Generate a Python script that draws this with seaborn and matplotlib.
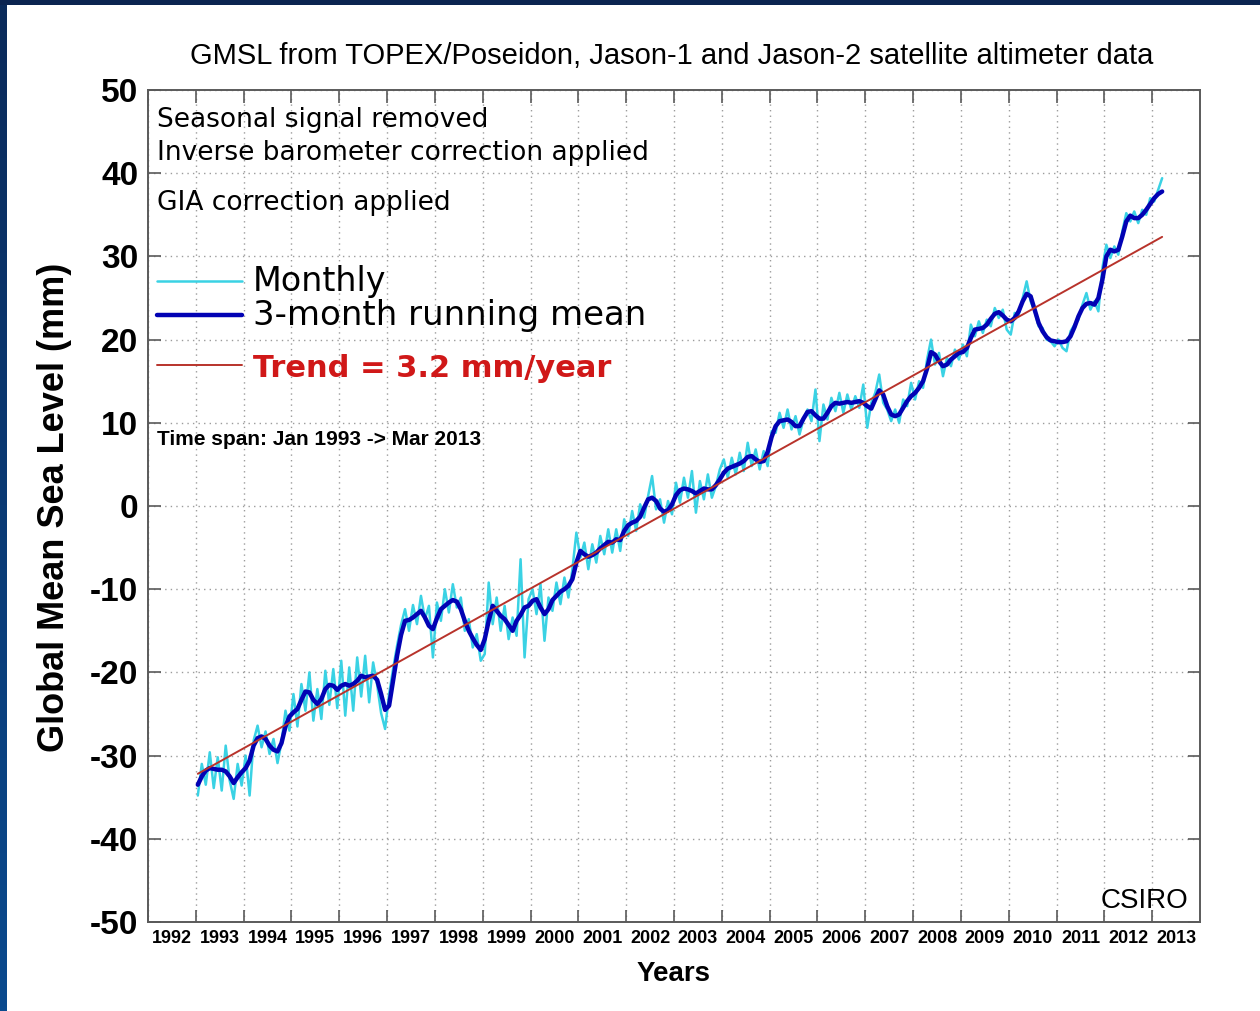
import numpy as np
import pandas as pd
import matplotlib
matplotlib.use("Agg")
import matplotlib.pyplot as plt
import seaborn as sns

# Global mean sea level (mm), monthly values Jan 1993 -> Mar 2013 (one row per year)
monthly_gmsl = [
    -34.8, -31.0, -33.5, -29.6, -33.9, -30.2, -34.2, -28.8, -33.0, -35.2, -31.0, -33.6,
    -30.0, -34.8, -28.2, -26.4, -29.0, -27.1, -29.8, -28.0, -30.9, -28.4, -24.6, -27.0,
    -22.6, -26.5, -21.4, -24.6, -20.0, -25.8, -22.0, -25.6, -19.8, -23.9, -19.6, -24.3,
    -18.6, -25.2, -19.4, -24.6, -18.2, -22.9, -18.0, -23.6, -18.8, -21.5, -24.9, -26.8,
    -22.6, -19.6, -16.8, -14.3, -12.4, -15.0, -11.9, -14.2, -10.8, -13.6, -12.0, -18.2,
    -11.6, -13.8, -10.0, -12.8, -9.4, -12.2, -11.0, -15.0, -13.6, -17.0, -15.4, -18.6,
    -17.8, -9.2, -14.2, -11.0, -15.0, -12.0, -16.0, -13.4, -15.6, -6.4, -18.2, -11.2,
    -10.0, -13.0, -9.4, -16.2, -11.0, -12.6, -9.2, -11.8, -8.6, -11.0, -7.6, -3.2,
    -6.2, -4.4, -7.6, -4.6, -6.8, -3.6, -5.8, -2.8, -5.6, -2.8, -5.4, -1.6,
    -3.6, -0.6, -3.0, 0.2, -1.4, 1.2, 3.6, -0.4, 0.8, -2.0, 0.6, -1.0,
    2.8, 0.4, 3.4, 1.0, 4.2, -0.8, 3.0, 0.8, 3.8, 1.0, 2.4, 4.4,
    5.6, 3.4, 5.8, 3.8, 6.4, 4.2, 7.6, 4.8, 6.8, 4.4, 6.6, 4.8,
    9.0, 8.8, 11.2, 9.4, 11.6, 9.2, 10.8, 8.6, 10.4, 11.6, 10.2, 14.0,
    7.8, 12.2, 10.4, 13.0, 11.4, 13.6, 11.2, 13.4, 11.6, 13.2, 11.8, 14.6,
    9.4, 12.4, 13.6, 15.8, 12.4, 11.6, 10.2, 11.6, 10.0, 12.8, 12.0, 14.8,
    12.8, 15.0, 14.2, 17.6, 20.0, 17.0, 18.4, 15.6, 17.8, 16.8, 18.8, 17.6,
    19.4, 18.0, 21.8, 20.4, 22.2, 20.8, 22.4, 21.6, 23.8, 22.6, 23.6, 21.2,
    20.6, 23.2, 23.0, 25.0, 27.0, 24.6, 23.4, 21.6, 21.4, 20.0, 19.8, 19.2,
    20.0, 19.0, 18.6, 21.0, 21.8, 22.4, 24.2, 25.6, 23.6, 24.6, 23.4, 28.6,
    31.4, 29.8, 31.2, 30.2, 33.0, 35.2, 34.2, 35.4, 34.0, 35.6, 35.0, 37.0,
    36.6, 38.0, 39.4,
]

# 3-month running mean (mm), same months
running_mean = [
    -33.5, -32.5, -31.8, -31.5, -31.6, -31.7, -31.7, -31.9, -32.5, -33.3, -32.6, -32.0,
    -31.5, -30.6, -28.8, -27.9, -27.7, -28.0, -28.8, -29.3, -29.5, -28.5, -26.5, -25.3,
    -24.8, -24.4, -23.3, -22.3, -22.4, -23.3, -23.8, -23.2, -22.0, -21.5, -21.6, -22.1,
    -21.6, -21.4, -21.6, -21.4, -21.0, -20.4, -20.6, -20.5, -20.4, -20.9, -22.6, -24.5,
    -24.0, -21.0, -18.0, -15.5, -13.8, -13.7, -13.4, -13.0, -12.6, -13.4, -14.4, -14.8,
    -13.5, -12.4, -12.0, -11.6, -11.3, -11.5, -12.4, -13.8, -15.0, -15.9, -16.7, -17.3,
    -16.0, -13.8, -12.0, -12.6, -13.2, -13.6, -14.3, -15.0, -13.8, -13.1, -12.2, -12.0,
    -11.4, -11.2, -12.2, -13.0, -12.4, -11.3, -10.8, -10.3, -10.0, -9.6, -8.8, -6.8,
    -5.4, -5.8, -6.1, -5.9, -5.6, -5.1, -4.7, -4.3, -4.4, -4.0, -4.1, -3.0,
    -2.3, -2.0, -1.8, -1.3, -0.2, 0.8, 1.0, 0.6, -0.3, -0.7, -0.5, 0.2,
    1.3, 1.9, 2.1, 2.0, 1.8, 1.5, 1.8, 2.1, 2.0, 2.0, 2.5, 3.2,
    4.0, 4.5, 4.7, 4.9, 5.1, 5.4, 5.9, 6.0, 5.6, 5.3, 5.4, 6.5,
    8.3, 9.6, 10.2, 10.3, 10.4, 10.1, 9.6, 9.6, 10.5, 11.3, 11.4, 10.9,
    10.5, 10.5, 11.2, 12.0, 12.4, 12.3, 12.4, 12.5, 12.4, 12.5, 12.6, 12.4,
    12.0, 11.7, 12.8, 13.9, 13.4, 12.0, 11.0, 10.8, 11.0, 11.8, 12.6, 13.2,
    13.6, 14.2, 15.0, 16.5, 18.5, 18.2, 17.4, 16.8, 17.0, 17.6, 18.0, 18.4,
    18.5, 19.0, 20.2, 21.2, 21.3, 21.4, 21.8, 22.5, 23.1, 23.3, 22.9, 22.4,
    22.2, 22.6, 23.4, 24.6, 25.5, 25.2, 23.6, 22.0, 21.0, 20.3, 19.9, 19.8,
    19.7, 19.7, 19.8, 20.4, 21.5, 22.8, 23.8, 24.3, 24.4, 24.2, 25.0, 27.2,
    30.0, 30.8, 30.6, 30.8, 32.4, 34.2, 34.9, 34.6, 34.6, 35.0, 35.6, 36.3,
    37.0, 37.5, 37.8,
]

start_year = 1993
trend_rate = 3.2          # mm/year
trend_zero_year = 2003.1  # year at which the trend line crosses 0 mm

year_ticks = list(range(1992, 2014))
level_ticks = list(range(-50, 51, 10))

notes = ["Seasonal signal removed",
         "Inverse barometer correction applied",
         "GIA correction applied"]

# ---------------------------------------------------------------------------
months = np.arange(len(monthly_gmsl))
years = start_year + (months + 0.5) / 12.0
df = pd.DataFrame({"year": years, "monthly": monthly_gmsl, "mean3": running_mean})
df["trend"] = trend_rate * (df["year"] - trend_zero_year)

sns.set_theme(style="white")
plt.rcParams["font.family"] = ["Liberation Sans", "DejaVu Sans"]
for key in ("text.color", "axes.labelcolor", "xtick.color", "ytick.color"):
    plt.rcParams[key] = "black"

W, H = 1260, 1011
fig = plt.figure(figsize=(W / 100, H / 100), dpi=100)
fig.patch.set_facecolor("white")

# navy frame on the top and left edges
band = fig.add_axes([0, 0, 7 / W, 1])
grad = np.linspace(0, 1, 256).reshape(-1, 1)
band.imshow(grad, aspect="auto", cmap=matplotlib.colors.LinearSegmentedColormap.from_list(
    "navy", ["#0b2a5a", "#0a4a8e"]), origin="upper", extent=[0, 1, 0, 1])
band.axis("off")
top = fig.add_axes([0, 1 - 5 / H, 1, 5 / H])
top.set_facecolor("#0b2450")
top.set_xticks([]); top.set_yticks([])
for s in top.spines.values():
    s.set_visible(False)

ax = fig.add_axes([148 / W, 89 / H, 1052 / W, 832 / H])
ax.set_facecolor("white")

cyan, navy, red = "#3ad2e4", "#0202b4", "#b8332b"
sns.lineplot(data=df, x="year", y="monthly", ax=ax, color=cyan,
             linewidth=1.8, estimator=None, zorder=3)
sns.lineplot(data=df, x="year", y="mean3", ax=ax, color=navy,
             linewidth=3.2, estimator=None, zorder=4)
sns.lineplot(data=df, x="year", y="trend", ax=ax, color=red,
             linewidth=1.4, estimator=None, zorder=5)

ax.set_xlim(1992, 2014)
ax.set_ylim(-50, 50)

# axes frame, inward ticks on all sides
for s in ax.spines.values():
    s.set_visible(True)
    s.set_color("#5a5a5a")
    s.set_linewidth(1.4)

ax.set_xticks(year_ticks)
ax.set_xticklabels([])
ax.set_xticks([y + 0.5 for y in year_ticks], minor=True)
ax.set_xticklabels([str(y) for y in year_ticks], minor=True,
                   fontsize=13, fontweight="bold")
ax.set_yticks(level_ticks)
ax.set_yticklabels([str(v) for v in level_ticks], fontsize=24, fontweight="bold")
ax.tick_params(axis="both", which="major", direction="in", length=9, width=1.2,
               color="#5a5a5a", top=True, right=True, bottom=True, left=True)
ax.tick_params(axis="y", which="major", pad=7)
ax.tick_params(axis="x", which="minor", length=0, pad=6, bottom=True, top=False)

ax.grid(True, which="major", linestyle=(0, (1, 3)), color="#9c9c9c", linewidth=1.0)

ax.set_xlabel("Years", fontsize=20, fontweight="bold")
ax.xaxis.set_label_coords(0.5, -0.047)
ax.xaxis.label.set_va("top")
ax.set_ylabel("Global Mean Sea Level (mm)", fontsize=26, fontweight="bold")
ax.yaxis.set_label_coords(-0.072, 0.498)

fig.text(672 / W, 1 - 64 / H,
         "GMSL from TOPEX/Poseidon, Jason-1 and Jason-2 satellite altimeter data",
         ha="center", va="baseline", fontsize=21)

# processing notes
for txt, ypix in zip(notes, [127, 160, 210]):
    ax.text((157 - 148) / 1052, (922 - ypix) / 832, txt, transform=ax.transAxes,
            ha="left", va="baseline", fontsize=19, family="DejaVu Sans")

# legend
x0, x1, xt = (157 - 148) / 1052, (242 - 148) / 1052, (253 - 148) / 1052
legend_rows = [
    ("Monthly", cyan, 1.8, 281, 291, "black", "normal", 24.0),
    ("3-month running mean", navy, 3.2, 315, 325, "black", "normal", 24.5),
    ("Trend = 3.2 mm/year", red, 1.4, 365, 377, "#d01818", "bold", 22.0),
]
for label, col, lw, yline, ybase, tcol, weight, fs in legend_rows:
    ax.plot([x0, x1], [(922 - yline) / 832] * 2, transform=ax.transAxes,
            color=col, linewidth=lw, zorder=6)
    ax.text(xt, (922 - ybase) / 832, label, transform=ax.transAxes, ha="left",
            va="baseline", fontsize=fs, color=tcol, fontweight=weight,
            family="DejaVu Sans", zorder=6)

ax.text((157 - 148) / 1052, (922 - 445) / 832, "Time span: Jan 1993 -> Mar 2013",
        transform=ax.transAxes, ha="left", va="baseline", fontsize=15,
        fontweight="bold")
ax.text((1188 - 148) / 1052, (922 - 908) / 832, "CSIRO", transform=ax.transAxes,
        ha="right", va="baseline", fontsize=20)

fig.savefig("out.png", dpi=100, facecolor="white")
